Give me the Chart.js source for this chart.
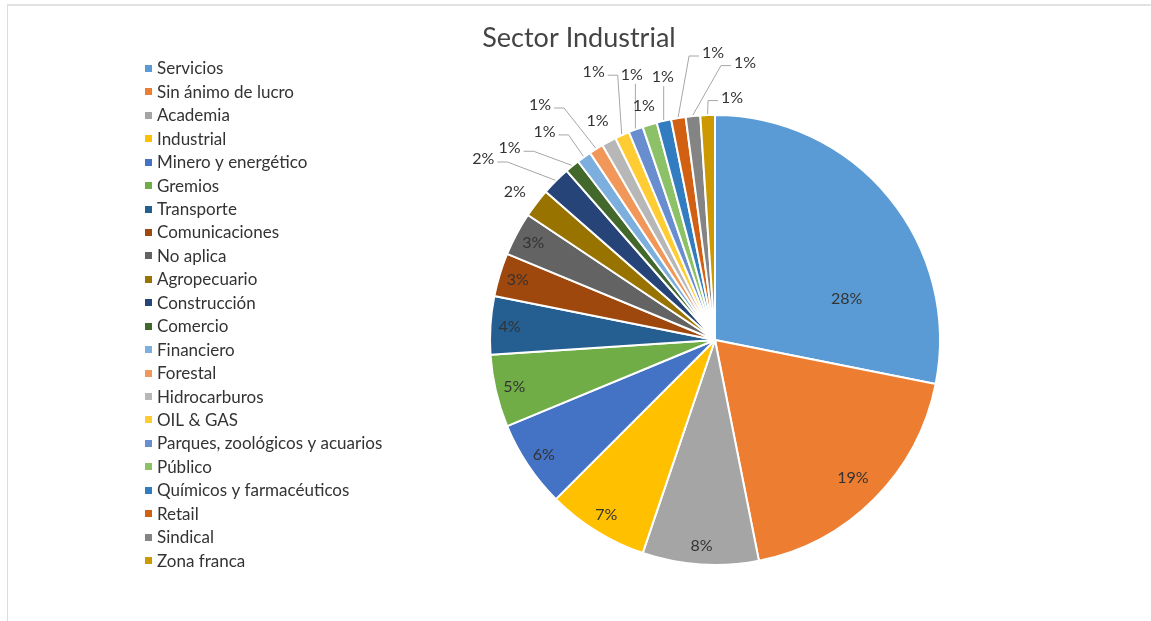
<!DOCTYPE html>
<html>
<head>
<meta charset="utf-8">
<script src="https://cdn.jsdelivr.net/npm/chart.js@4.4.0/dist/chart.umd.min.js"></script>
<style>
  html, body { margin: 0; padding: 0; background: #fff; }
  #frame { position: absolute; left: 7px; top: 4px; width: 1160px; height: 630px;
           border-left: 1px solid #dcdcdc; border-top: 2px solid #e2e2e2; }
  #myChart { position: absolute; left: 0; top: 0; }
</style>
</head>
<body>
<div id="frame"></div>
<canvas id="myChart" width="1151" height="621"></canvas>
<script>
// data
const sectors = [
  "Servicios", "Sin ánimo de lucro", "Academia", "Industrial", "Minero y energético",
  "Gremios", "Transporte", "Comunicaciones", "No aplica", "Agropecuario", "Construcción",
  "Comercio", "Financiero", "Forestal", "Hidrocarburos", "OIL & GAS",
  "Parques, zoológicos y acuarios", "Público", "Químicos y farmacéuticos", "Retail",
  "Sindical", "Zona franca"
];
const counts = [27, 18, 8, 7, 6, 5, 4, 3, 3, 2, 2, 1, 1, 1, 1, 1, 1, 1, 1, 1, 1, 1];

const colors = [
  "#5b9bd5", "#ed7d31", "#a5a5a5", "#ffc000", "#4472c4", "#70ad47", "#255e91",
  "#9e480e", "#636363", "#997300", "#264478", "#43682b", "#7cafdd", "#f1975a",
  "#b7b7b7", "#ffcd33", "#698ed0", "#8cc168", "#327dc2", "#d26012", "#848484", "#cc9a00"
];

// label placement: angle shift (deg) and distance from the outer edge (px)
const labelPlace = [
  { da: 22, dr: -87 }, { da: 0, dr: -30 }, { da: 0, dr: -19 }, { da: 0, dr: -19 },
  { da: 0, dr: -19 }, { da: 0, dr: -19 }, { da: 0, dr: -19 }, { da: 0, dr: -19 },
  { da: 0, dr: -19 },
  { da: -1, dr: 24 },
  { da: -7, dr: 69, leader: true },
  { da: -7.6, dr: 56, leader: true },
  { da: -3.7, dr: 44, leader: true },
  { da: -4.8, dr: 68, leader: true },
  { da: 0, dr: 24 },
  { da: 0, dr: 69, leader: true },
  { da: 3.2, dr: 53, leader: true },
  { da: 0, dr: 20 },
  { da: 1.9, dr: 43, leader: true },
  { da: 9, dr: 62, leader: true },
  { da: 11.8, dr: 54, leader: true },
  { da: 5.9, dr: 18, leader: true }
];

const FONT = "Lato, 'Open Sans', sans-serif";

const pieLabels = {
  id: "pieLabels",
  afterDatasetsDraw(chart) {
    const ctx = chart.ctx;
    const arcs = chart.getDatasetMeta(0).data;
    const total = counts.reduce((a, b) => a + b, 0);
    ctx.save();
    ctx.font = "16px " + FONT;
    ctx.textAlign = "center";
    ctx.textBaseline = "middle";
    arcs.forEach((arc, i) => {
      const p = labelPlace[i];
      const mid = (arc.startAngle + arc.endAngle) / 2;
      const a = mid + p.da * Math.PI / 180;
      const R = arc.outerRadius + p.dr;
      const lx = arc.x + R * Math.cos(a);
      const ly = arc.y + R * Math.sin(a);
      const txt = Math.round(counts[i] / total * 100) + "%";
      if (p.leader) {
        const w = ctx.measureText(txt).width;
        const ax = arc.x + (arc.outerRadius + 1) * Math.cos(mid);
        const ay = arc.y + (arc.outerRadius + 1) * Math.sin(mid);
        const left = lx - w / 2 - 3, right = lx + w / 2 + 3, bottom = ly + 9;
        ctx.strokeStyle = "#a6a6a6";
        ctx.lineWidth = 1;
        ctx.beginPath();
        if (ax >= left && ax <= right && ay > bottom) {
          ctx.moveTo(ax, bottom);
          ctx.lineTo(ax, ay);
        } else if (ax > right) {
          ctx.moveTo(right, ly + 3);
          ctx.lineTo(right + 10, ly + 3);
          ctx.lineTo(ax, ay);
        } else {
          ctx.moveTo(left, ly + 3);
          ctx.lineTo(left - 10, ly + 3);
          ctx.lineTo(ax, ay);
        }
        ctx.stroke();
      }
      ctx.fillStyle = "#333333";
      ctx.fillText(txt, lx, ly);
    });
    ctx.restore();
  }
};

const sideParts = {
  id: "sideParts",
  afterDraw(chart) {
    const ctx = chart.ctx;
    ctx.save();
    ctx.fillStyle = "#444444";
    ctx.font = "27px " + FONT;
    ctx.textAlign = "center";
    ctx.textBaseline = "middle";
    ctx.fillText("Sector Industrial", 579, 38);

    ctx.font = "17px " + FONT;
    ctx.textAlign = "left";
    sectors.forEach((s, i) => {
      const y = 69 + i * 23.43;
      ctx.fillStyle = colors[i];
      ctx.fillRect(145, Math.round(y) - 4, 7, 7);
      ctx.fillStyle = "#333333";
      ctx.fillText(s, 157, y);
    });
    ctx.restore();
  }
};

let ctx = document.getElementById("myChart").getContext("2d");
let myChart = new Chart(ctx, {
  type: "pie",
  data: {
    labels: sectors,
    datasets: [
      {
        data: counts,
        backgroundColor: colors,
        borderColor: "#ffffff",
        borderWidth: 2,
        hoverOffset: 0,
      },
    ],
  },
  options: {
    responsive: false,
    animation: false,
    layout: { padding: { left: 489, right: 210, top: 114, bottom: 55 } },
    plugins: {
      legend: { display: false },
      title: { display: false },
      tooltip: { enabled: false },
    },
  },
  plugins: [pieLabels, sideParts],
});
</script>
</body>
</html>
